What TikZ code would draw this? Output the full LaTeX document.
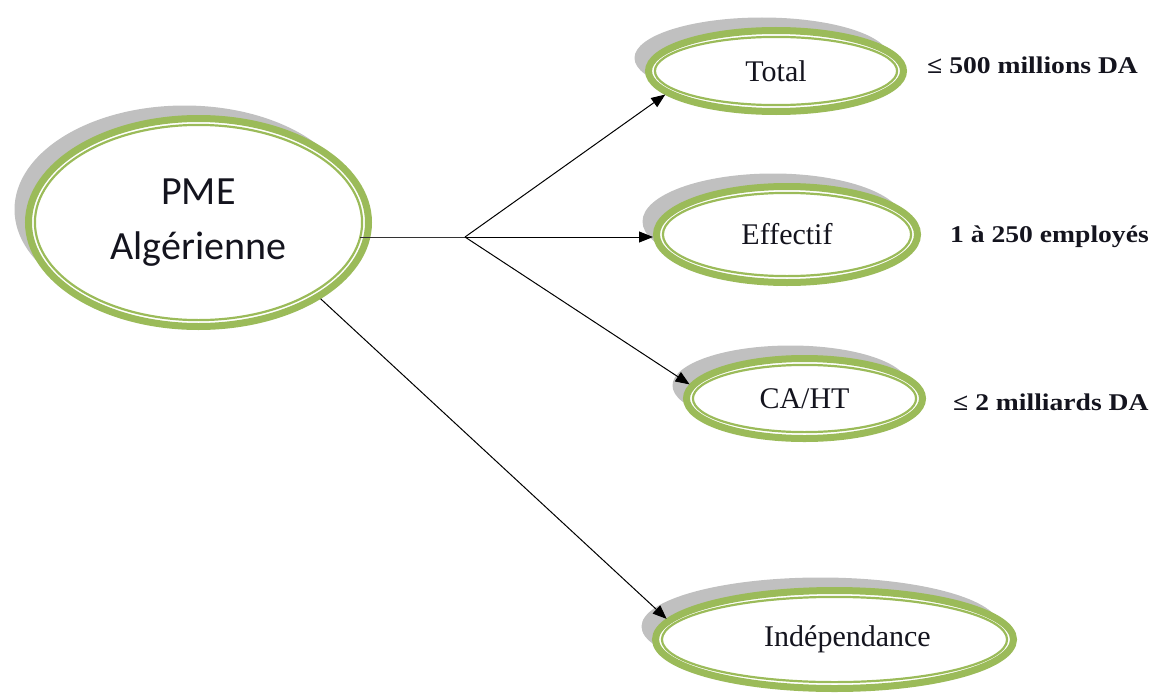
\documentclass[tikz,border=0pt]{standalone}
\usepackage{fontspec}
\setmainfont{Liberation Serif}
\newfontfamily\calibrifont{Carlito}
\newfontfamily\lblfont{Liberation Serif}[FakeStretch=1.15]
\usetikzlibrary{shapes.geometric,shadows,calc,arrows.meta}
\definecolor{ringgreen}{RGB}{155,187,89}
\definecolor{shadowgray}{RGB}{192,192,192}
\definecolor{textdark}{RGB}{20,20,30}
\begin{document}
\begin{tikzpicture}[x=1pt,y=-1pt,
  oval/.style={ellipse, draw=ringgreen, line width=7pt, fill=white, inner sep=0pt,
    text=textdark,
    drop shadow={shadow xshift=-14pt, shadow yshift=13pt, fill=shadowgray, opacity=1},
    path picture={\draw[ringgreen, line width=2.2pt]
      let \p1=($(path picture bounding box.north east)-(path picture bounding box.center)$) in
      (path picture bounding box.center) ellipse [x radius={\x1-6.4pt}, y radius={\y1-6.4pt}];}},
  ovaltext/.style={font=\fontsize{30}{36}\selectfont},
  conn/.style={draw=black, line width=1pt, -{Triangle[length=14pt,width=11pt]}},
  crit/.style={font={\lblfont\bfseries\fontsize{24}{28}\selectfont}, anchor=base west, inner sep=0pt, text=textdark}
]
\useasboundingbox (0,0) rectangle (1155,693);

\node[oval, minimum width=340pt, minimum height=208pt, align=center,
  font={\calibrifont\fontsize{40}{55}\selectfont}] (pme) at (198.5,222.5) {PME\\Algérienne};
\node[oval, ovaltext, minimum width=255pt, minimum height=81pt] (total) at (776,71) {Total};
\node[oval, ovaltext, minimum width=261pt, minimum height=96pt] (effectif) at (787,234.5) {Effectif};
\node[oval, ovaltext, minimum width=236pt, minimum height=80pt] (caht) at (804.5,398.5) {CA/HT};
\node[oval, ovaltext, minimum width=358pt, minimum height=98pt] (indep) at (834.5,639.5) {\hspace*{26pt}Indépendance};

\coordinate (J) at (465,237);
\draw[black!80, line width=1pt] ([xshift=-12pt]pme.east |- J) -- (J);
\draw[conn] (J) -- (total.192);
\draw[conn] (J) -- (J -| effectif.west);
\draw[conn] (J) -- (caht.173);
\draw[conn] (pme.-32) -- (indep.173);

\node[crit] (l1) at (927,73) {≤ 500 millions DA};
\node[crit] (l2) at (950,242) {1 à 250 employés};
\node[crit] (l3) at (953,410) {≤ 2 milliards DA};
\end{tikzpicture}
\end{document}
